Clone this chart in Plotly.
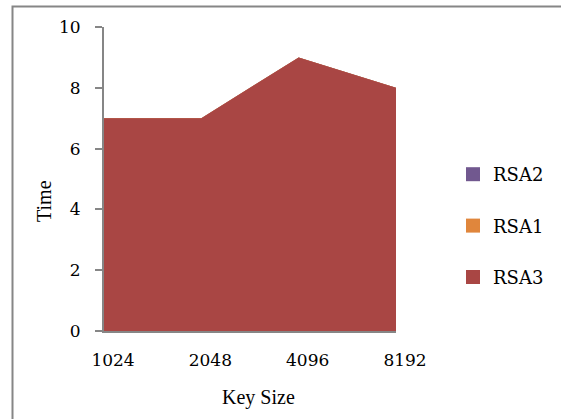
import plotly.graph_objects as go

categories = ["1024", "2048", "4096", "8192"]
rsa3 = [7, 7, 9, 8]
rsa1 = [7, 7, 9, 8]
rsa2 = [7, 7, 9, 8]
y_ticks = [0, 2, 4, 6, 8, 10]

col_rsa2 = "#71588F"
col_rsa1 = "#E0863C"
col_rsa3 = "#A94644"
axis_col = "#868686"
FAM = "Liberation Serif"
FAM_T = "DejaVu Serif"

W, H = 561, 419
L, R, T, B = 104, 165, 27, 88
pw, ph = W - L - R, H - T - B

def px_x(x):
    return (x - L) / pw

def px_y(y):
    return (H - B - y) / ph

def f(size=20, fam=FAM):
    return dict(family=fam, size=size, color="black")

fig = go.Figure()
for name, vals, col in [("RSA2", rsa2, col_rsa2), ("RSA1", rsa1, col_rsa1), ("RSA3", rsa3, col_rsa3)]:
    fig.add_trace(go.Scatter(x=categories, y=vals, name=name, mode="none", fill="tozeroy",
                             fillcolor=col, showlegend=False, hoverinfo="x+y+name"))
for i, (name, col) in enumerate([("RSA2", col_rsa2), ("RSA1", col_rsa1), ("RSA3", col_rsa3)]):
    fig.add_trace(go.Scatter(x=[None], y=[None], name=name, mode="markers",
                             marker=dict(symbol="square", size=14, color=col),
                             legendgroup="g%d" % i, showlegend=True))

fig.update_layout(
    width=W, height=H,
    margin=dict(l=L, r=R, t=T, b=B, pad=0),
    paper_bgcolor="white", plot_bgcolor="white",
    font=f(),
    showlegend=True,
    legend=dict(x=px_x(453), y=px_y(226), xanchor="left", yanchor="middle",
                tracegroupgap=25, font=f(18, FAM_T), bgcolor="rgba(0,0,0,0)",
                traceorder="grouped"),
    xaxis=dict(type="category", range=[0, 3], showgrid=False, zeroline=False,
               showline=True, linecolor=axis_col, linewidth=2, ticks="",
               ticklabelshift=9, ticklabelstandoff=13, tickfont=f(17, FAM_T)),
    yaxis=dict(range=[0, 10], tickvals=y_ticks, showgrid=False, zeroline=False,
               showline=True, linecolor=axis_col, linewidth=2, ticks="outside",
               ticklen=7, tickwidth=2, tickcolor=axis_col, ticklabelstandoff=11,
               tickfont=f(17, FAM_T)),
    annotations=[
        dict(text="Key Size", x=px_x(258), y=px_y(397), xref="paper", yref="paper",
             showarrow=False, xanchor="center", yanchor="middle", font=f()),
        dict(text="Time", x=px_x(44), y=px_y(201), xref="paper", yref="paper",
             showarrow=False, xanchor="center", yanchor="middle", textangle=-90,
             font=f()),
    ],
    shapes=[
        dict(type="rect", xref="paper", yref="paper",
             x0=px_x(12.5), x1=px_x(700), y0=px_y(600), y1=px_y(6.5),
             line=dict(color=axis_col, width=2), fillcolor="rgba(0,0,0,0)", layer="below"),
    ],
)

fig.write_html("out.html")
